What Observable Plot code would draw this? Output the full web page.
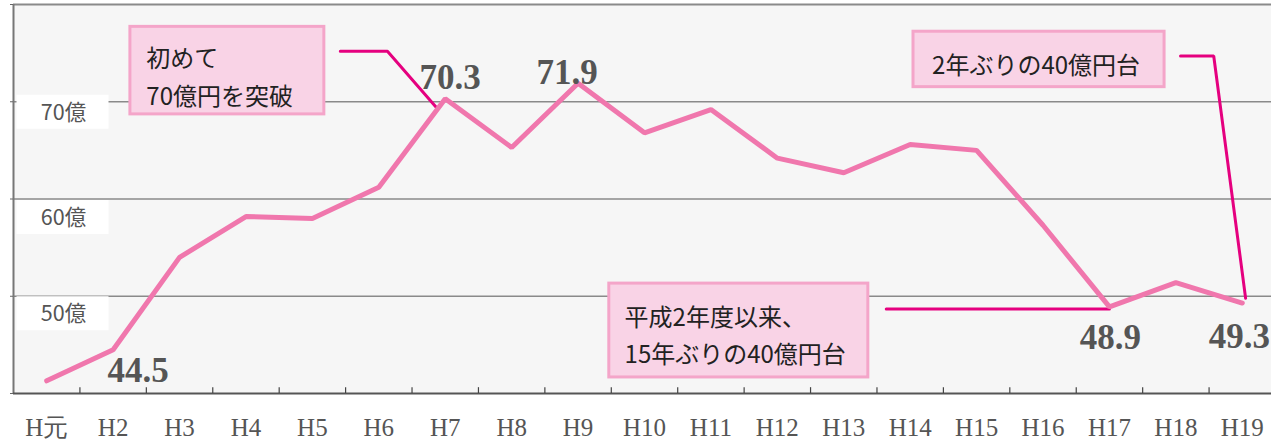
<!DOCTYPE html>
<html><head><meta charset="utf-8">
<script src="https://cdn.jsdelivr.net/npm/d3@7"></script>
<script src="https://cdn.jsdelivr.net/npm/@observablehq/plot@0.6"></script>
<style>body{margin:0;background:#fff;} svg{display:block}</style>
</head><body><div id="chart"></div>
<script>
// ---- data ----
const categories = ["H元","H2","H3","H4","H5","H6","H7","H8","H9","H10","H11","H12","H13","H14","H15","H16","H17","H18","H19"];
const values = [41.3, 44.5, 54.0, 58.2, 58.0, 61.2, 70.3, 65.3, 71.9, 66.8, 69.2, 64.2, 62.7, 65.6, 65.0, 57.3, 48.9, 51.4, 49.3];
const yTicks = [50, 60, 70];
const yTickLabels = ["50億", "60億", "70億"];
const labelledIndex = [1, 6, 8, 16, 18];
const noteTexts = ["初めて\n70億円を突破", "2年ぶりの40億円台", "平成2年度以来、\n15年ぶりの40億円台"];

// ---- annotation layout (in data space: x = category index, y = value) ----
const noteBoxes = [
  {x1: 1.26, x2: 4.18, y1: 68.7, y2: 77.7},
  {x1: 13.05, x2: 16.83, y1: 71.5, y2: 77.2},
  {x1: 8.47, x2: 12.37, y1: 41.65, y2: 51.3}
];
const noteAnchors = [
  {x: 1.50, y: 72.85},
  {x: 13.33, y: 74.1},
  {x: 8.70, y: 46.3}
];
const leaders = [
  [[4.42, 75.2], [5.13, 75.2], [5.88, 69.3]],
  [[17.07, 74.7], [17.57, 74.7], [18.05, 49.8]],
  [[12.64, 48.7], [16.0, 48.7]]
];
const labelOffsets = [[25, 21], [5, -21], [-11, -10], [1, 31], [-3, 34]];
const yLabelOffsets = [18, 19, 11];

const boxSymbol = {draw(ctx) { ctx.rect(-46, -17, 92, 34); }};
const idx = d3.range(categories.length);

const marks = [
  Plot.frame({fill: "#f6f6f6", stroke: null}),
  Plot.ruleY(yTicks, {stroke: "#8a8a8a", strokeWidth: 1.5}),
  Plot.ruleY([80], {stroke: "#8a8a8a", strokeWidth: 2}),
  ...yTicks.map((v, k) => Plot.dot([v], {x: -0.5, y: d => d, dx: 49, dy: yLabelOffsets[k] - 1, symbol: boxSymbol, fill: "white", stroke: null})),
  ...yTicks.map((v, k) => Plot.text([v], {x: -0.5, y: d => d, dx: 50, dy: yLabelOffsets[k], text: () => yTickLabels[k], fontSize: 21.5, fontFamily: "Noto Sans CJK JP", fill: "#555"})),
  Plot.ruleX([-0.5], {stroke: "#777", strokeWidth: 2}),
  Plot.axisY({ticks: [40, 50, 60, 70, 80], tickSize: 3, tickFormat: () => "", stroke: "#666", label: null}),
  Plot.ruleY([40], {stroke: "#555", strokeWidth: 2}),
  Plot.ruleX(idx.slice(1).map(i => i - 0.5), {y1: 40, y2: 40.6, stroke: "#444", strokeWidth: 1.2}),
  Plot.text(idx, {x: d => d, y: 40, dy: 34, text: i => categories[i], fontSize: 25, fontWeight: "normal", fontFamily: "Liberation Serif, serif", fill: "#555"}),
  Plot.rect(noteBoxes, {x1: "x1", x2: "x2", y1: "y1", y2: "y2", fill: "#f9d3e6", stroke: "#f4a5c9", strokeWidth: 3}),
  ...noteTexts.map((t, k) => Plot.text([t], {x: noteAnchors[k].x, y: noteAnchors[k].y, text: d => d, textAnchor: "start", lineHeight: 1.55, fontSize: 24, fontFamily: "Noto Sans CJK JP", fill: "#222"})),
  ...leaders.map(pts => Plot.line(pts, {x: d => d[0], y: d => d[1], stroke: "#e5007f", strokeWidth: 3, curve: "linear", strokeLinejoin: "miter"})),
  Plot.line(values, {x: (d, i) => i, y: d => d, stroke: "#f077ad", strokeWidth: 5, strokeLinejoin: "miter", strokeLinecap: "round"}),
  ...labelledIndex.map((i, k) => Plot.text([i], {x: d => d, y: d => values[d], text: d => values[d].toFixed(1), dx: labelOffsets[k][0], dy: labelOffsets[k][1], fontSize: 35, fontWeight: "bold", fontFamily: "Liberation Serif", fill: "#555"}))
];

const chart = Plot.plot({
  width: 1271,
  height: 442,
  marginTop: 4,
  marginLeft: 13,
  marginRight: 0,
  marginBottom: 49,
  style: {background: "#fff", overflow: "visible"},
  x: {type: "linear", domain: [-0.5, categories.length - 0.5], range: [13, 1275], axis: null},
  y: {domain: [40, 80], axis: null},
  marks
});
document.getElementById("chart").appendChild(chart);
</script>
</body></html>
